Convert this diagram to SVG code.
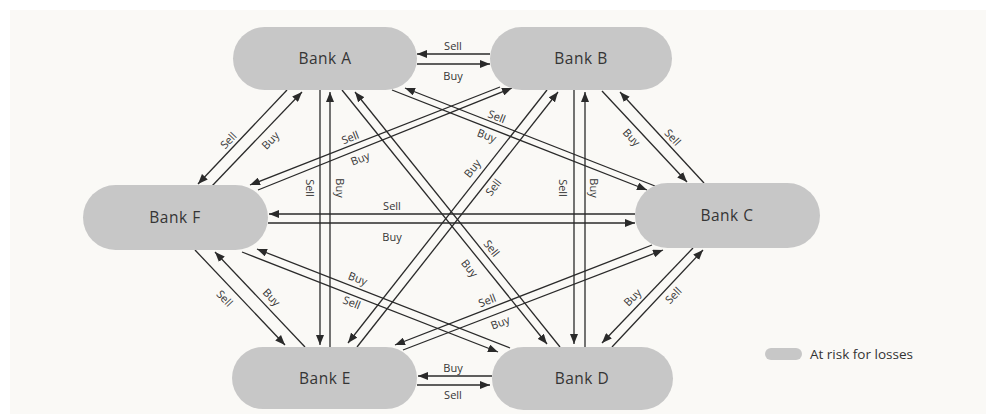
<svg xmlns="http://www.w3.org/2000/svg" width="990" height="419" viewBox="0 0 990 419">
<defs>
<marker id="ah" viewBox="0 0 10 8" refX="10" refY="4" markerWidth="10" markerHeight="8" markerUnits="userSpaceOnUse" orient="auto">
<path d="M0,0 L10,4 L0,8 z" fill="#2a2a2a"/>
</marker>
<style>
.node{fill:#c7c7c7}
.nt{font-family:"Open Sans","Liberation Sans",sans-serif;font-size:15.5px;fill:#353535;text-anchor:middle;dominant-baseline:central;letter-spacing:0.5px}
.c line{stroke:#2a2a2a;stroke-width:1.3;marker-end:url(#ah)}
.lb{font-family:"Open Sans","Liberation Sans",sans-serif;font-size:11px;fill:#353535;text-anchor:middle;dominant-baseline:central}
.lg{font-family:"Open Sans","Liberation Sans",sans-serif;font-size:13.5px;fill:#333}
</style>
</defs>
<rect x="0" y="0" width="990" height="419" fill="#ffffff"/>
<rect x="10" y="10" width="976" height="404" fill="#faf9f6"/>

<g id="connectors" class="c">
<!-- A-B -->
<line x1="490" y1="54" x2="417" y2="54"/>
<line x1="417" y1="64" x2="490" y2="64"/>
<!-- A-F -->
<line x1="287" y1="90" x2="198" y2="184"/>
<line x1="212" y1="186" x2="302" y2="92"/>
<!-- A-E -->
<line x1="320" y1="90" x2="320" y2="345"/>
<line x1="330" y1="347" x2="330" y2="92"/>
<!-- A-D -->
<line x1="342" y1="90" x2="547" y2="344"/>
<line x1="560" y1="347" x2="355" y2="92"/>
<!-- A-C -->
<line x1="392" y1="90" x2="647" y2="190"/>
<line x1="655" y1="186" x2="405" y2="88"/>
<!-- B-F -->
<line x1="500" y1="87" x2="250" y2="185"/>
<line x1="258" y1="190" x2="512" y2="88"/>
<!-- B-E -->
<line x1="547" y1="90" x2="348" y2="343"/>
<line x1="357" y1="347" x2="558" y2="92"/>
<!-- B-D -->
<line x1="574" y1="90" x2="574" y2="344"/>
<line x1="585" y1="347" x2="585" y2="92"/>
<!-- B-C -->
<line x1="602" y1="91" x2="687" y2="182"/>
<line x1="704" y1="183" x2="620" y2="92"/>
<!-- F-C -->
<line x1="635" y1="214" x2="269" y2="214"/>
<line x1="268" y1="223" x2="635" y2="223"/>
<!-- F-E -->
<line x1="195" y1="250" x2="285" y2="345"/>
<line x1="305" y1="347" x2="215" y2="252"/>
<!-- F-D -->
<line x1="510" y1="348" x2="257" y2="249"/>
<line x1="242" y1="252" x2="498" y2="352"/>
<!-- C-E -->
<line x1="652" y1="245" x2="395" y2="345"/>
<line x1="403" y1="350" x2="663" y2="250"/>
<!-- C-D -->
<line x1="693" y1="248" x2="602" y2="343"/>
<line x1="612" y1="347" x2="703" y2="250"/>
<!-- E-D -->
<line x1="492" y1="376" x2="418" y2="376"/>
<line x1="417" y1="385" x2="490" y2="385"/>
</g>

<g id="labels">
<text class="lb" x="453" y="45">Sell</text>
<text class="lb" x="453" y="75">Buy</text>
<text class="lb" transform="translate(228,140) rotate(-46.6)">Sell</text>
<text class="lb" transform="translate(270,140) rotate(-46.6)">Buy</text>
<text class="lb" transform="translate(310,188) rotate(90)">Sell</text>
<text class="lb" transform="translate(340,188) rotate(90)">Buy</text>
<text class="lb" transform="translate(492,248) rotate(51)">Sell</text>
<text class="lb" transform="translate(470,268) rotate(51)">Buy</text>
<text class="lb" transform="translate(497,116) rotate(21.4)">Sell</text>
<text class="lb" transform="translate(487,135) rotate(21.4)">Buy</text>
<text class="lb" transform="translate(350,137) rotate(-21.4)">Sell</text>
<text class="lb" transform="translate(360,158) rotate(-21.4)">Buy</text>
<text class="lb" transform="translate(472,168) rotate(-51.8)">Buy</text>
<text class="lb" transform="translate(493,187) rotate(-51.8)">Sell</text>
<text class="lb" transform="translate(563,188) rotate(90)">Sell</text>
<text class="lb" transform="translate(594,188) rotate(90)">Buy</text>
<text class="lb" transform="translate(632,137) rotate(47)">Buy</text>
<text class="lb" transform="translate(673,137) rotate(47)">Sell</text>
<text class="lb" x="392" y="205">Sell</text>
<text class="lb" x="392" y="236">Buy</text>
<text class="lb" transform="translate(225,298) rotate(46.5)">Sell</text>
<text class="lb" transform="translate(272,297) rotate(46.5)">Buy</text>
<text class="lb" transform="translate(358,278) rotate(21.4)">Buy</text>
<text class="lb" transform="translate(352,302) rotate(21.4)">Sell</text>
<text class="lb" transform="translate(487,300) rotate(-21)">Sell</text>
<text class="lb" transform="translate(500,322) rotate(-21)">Buy</text>
<text class="lb" transform="translate(632,297) rotate(-46)">Buy</text>
<text class="lb" transform="translate(673,295) rotate(-46)">Sell</text>
<text class="lb" x="453" y="367">Buy</text>
<text class="lb" x="453" y="394">Sell</text>
</g>

<g id="bankA"><rect class="node" x="233" y="27" width="184" height="63" rx="31.5"/><text class="nt" x="325" y="58">Bank A</text></g>
<g id="bankB"><rect class="node" x="490" y="27" width="182" height="63" rx="31.5"/><text class="nt" x="581" y="58">Bank B</text></g>
<g id="bankF"><rect class="node" x="83" y="185" width="185" height="65" rx="32.5"/><text class="nt" x="175" y="217">Bank F</text></g>
<g id="bankC"><rect class="node" x="635" y="183" width="185" height="65" rx="32.5"/><text class="nt" x="727" y="215">Bank C</text></g>
<g id="bankE"><rect class="node" x="232" y="347" width="185" height="62" rx="31"/><text class="nt" x="325" y="378">Bank E</text></g>
<g id="bankD"><rect class="node" x="492" y="347" width="181" height="63" rx="31.5"/><text class="nt" x="582" y="378">Bank D</text></g>

<g id="legend">
<rect class="node" x="765" y="348" width="37" height="12" rx="6"/>
<text class="lg" x="810" y="359">At risk for losses</text>
</g>
</svg>
